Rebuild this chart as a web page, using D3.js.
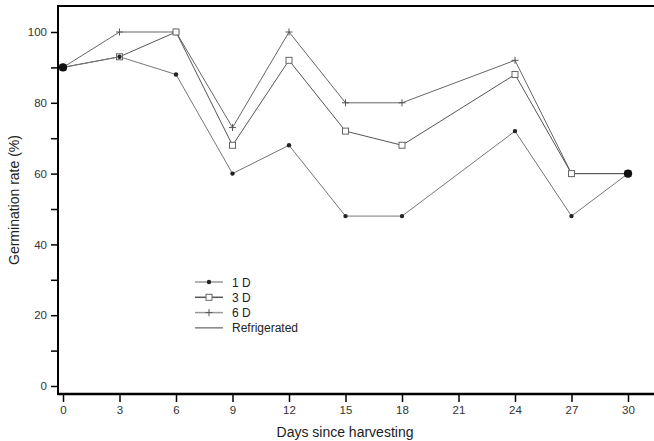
<!DOCTYPE html>
<html><head><meta charset="utf-8">
<script src="https://cdn.jsdelivr.net/npm/d3@7"></script>
<style>body{margin:0;background:#fff}svg{display:block}text{font-family:Arial,"Liberation Sans",sans-serif}</style>
</head><body><svg id="c" width="654" height="441"></svg>
<script>
const days = [0, 3, 6, 9, 12, 15, 18, 24, 27, 30];
const oneD = [90, 93, 88, 60, 68, 48, 48, 72, 48, 60];
const threeD = [90, 93, 100, 68, 92, 72, 68, 88, 60, 60];
const sixD = [90, 100, 100, 73, 100, 80, 80, 92, 60, 60];
const xTicks = [0, 3, 6, 9, 12, 15, 18, 21, 24, 27, 30];
const yTicks = [0, 10, 20, 30, 40, 50, 60, 70, 80, 90, 100];
const yLabels = [0, 20, 40, 60, 80, 100];
const legendNames = ["1 D", "3 D", "6 D", "Refrigerated"];

const svg = d3.select("#c");
const x = d3.scaleLinear().domain([0, 30]).range([63, 628]);
const y = d3.scaleLinear().domain([0, 100]).range([386, 32]);
const pLeft = 58, pTop = 6, pBottom = 394, pRight = 654;

svg.append("line").attr("x1", pLeft).attr("x2", pRight).attr("y1", pTop).attr("y2", pTop).attr("stroke", "#000").attr("stroke-width", 2);

const ya = svg.append("g").attr("transform", `translate(${pLeft},0)`)
  .call(d3.axisLeft(y).tickValues(yTicks).tickSize(7).tickFormat(d => yLabels.includes(d) ? d : ""));
ya.select(".domain").remove();
ya.selectAll(".tick line").attr("stroke-width", 1.5);
ya.selectAll("text").attr("font-size", 11.5).attr("fill", "#333").attr("x", -11);
svg.append("line").attr("x1", pLeft).attr("x2", pLeft).attr("y1", pTop - 1).attr("y2", pBottom + 1).attr("stroke", "#000").attr("stroke-width", 2);

const xa = svg.append("g").attr("transform", `translate(0,${pBottom})`)
  .call(d3.axisBottom(x).tickValues(xTicks).tickSize(8).tickFormat(d3.format("d")));
xa.select(".domain").remove();
xa.selectAll(".tick line").attr("stroke-width", 1.5);
xa.selectAll("text").attr("font-size", 11.5).attr("fill", "#333").attr("y", 12);
svg.append("line").attr("x1", pLeft - 1).attr("x2", pRight).attr("y1", pBottom).attr("y2", pBottom).attr("stroke", "#000").attr("stroke-width", 2.5);

svg.append("text").attr("x", 345).attr("y", 437).attr("text-anchor", "middle").attr("font-size", 14).attr("fill", "#222").text("Days since harvesting");
svg.append("text").attr("transform", "translate(19,200) rotate(-90)").attr("text-anchor", "middle").attr("font-size", 14).attr("fill", "#222").text("Germination rate (%)");

const line = d3.line().x(d => x(d[0])).y(d => y(d[1]));
const series = [
  {name: legendNames[0], vals: oneD, color: "#777", marker: "dot"},
  {name: legendNames[1], vals: threeD, color: "#555", marker: "square"},
  {name: legendNames[2], vals: sixD, color: "#666", marker: "plus"}
];

function drawMarker(g, type, cx, cy) {
  if (type === "dot") g.append("circle").attr("cx", cx).attr("cy", cy).attr("r", 2.2).attr("fill", "#222");
  else if (type === "square") g.append("rect").attr("x", cx - 3).attr("y", cy - 3).attr("width", 6).attr("height", 6).attr("fill", "#fff").attr("stroke", "#666").attr("stroke-width", 1);
  else if (type === "plus") {
    g.append("line").attr("x1", cx - 3.5).attr("x2", cx + 3.5).attr("y1", cy).attr("y2", cy).attr("stroke", "#555");
    g.append("line").attr("x1", cx).attr("x2", cx).attr("y1", cy - 3.5).attr("y2", cy + 3.5).attr("stroke", "#555");
  }
}

series.slice().reverse().forEach(s => {
  const pts = days.map((d, i) => [d, s.vals[i]]);
  svg.append("path").attr("d", line(pts)).attr("fill", "none").attr("stroke", s.color).attr("stroke-width", 1);
});
series.slice().reverse().forEach(s => {
  const g = svg.append("g");
  days.forEach((d, i) => drawMarker(g, s.marker, x(d), y(s.vals[i])));
});
[0, days.length - 1].forEach(i => svg.append("circle").attr("cx", x(days[i])).attr("cy", y(oneD[i])).attr("r", 4.2).attr("fill", "#111"));

const lg = svg.append("g");
const markers = ["dot", "square", "plus", null];
const colors = ["#999", "#555", "#999", "#444"];
legendNames.forEach((n, i) => {
  const ly = 282 + i * 15.3;
  lg.append("line").attr("x1", 195).attr("x2", 223).attr("y1", ly).attr("y2", ly).attr("stroke", colors[i]).attr("stroke-width", i === 3 ? 1 : 1.5);
  if (markers[i]) drawMarker(lg, markers[i], 209, ly);
  lg.append("text").attr("x", 232).attr("y", ly + 4.5).attr("font-size", 12).attr("fill", "#222").text(n);
});
</script></body></html>
